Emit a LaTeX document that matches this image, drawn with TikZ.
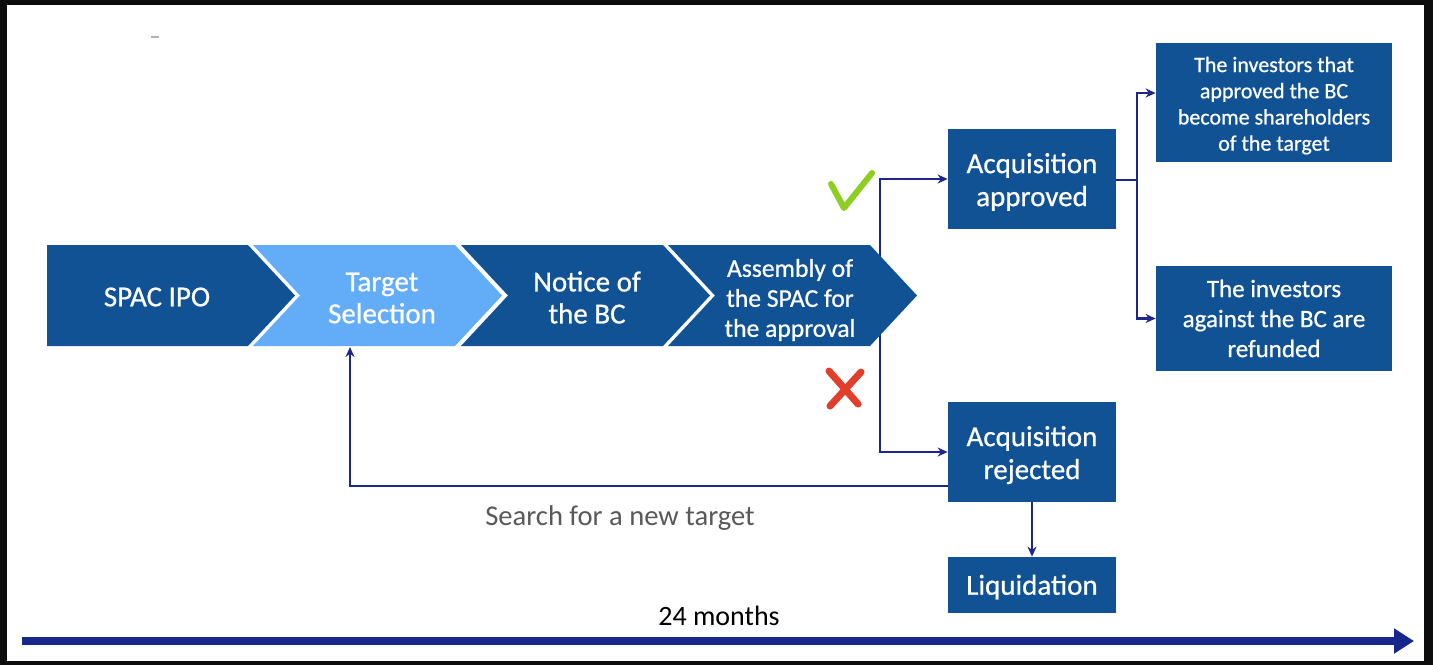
\documentclass[tikz,border=0pt]{standalone}
\usepackage{fontspec}
\setmainfont{Carlito}
\newfontfamily\wfont{Carlito}[FakeBold=0.7]
\usetikzlibrary{arrows.meta}
\pgfdeclarelayer{bg}
\pgfsetlayers{bg,main}
\definecolor{dblue}{RGB}{16,82,148}
\definecolor{lblue}{RGB}{99,172,247}
\definecolor{navy}{RGB}{30,38,140}
\definecolor{tline}{RGB}{22,40,140}
\definecolor{chk}{RGB}{142,206,32}
\definecolor{xred}{RGB}{226,62,44}
\definecolor{frame}{RGB}{13,13,13}
\definecolor{sgray}{RGB}{89,89,89}
\newcommand\mlines[2]{\raisebox{#1}[\height][\depth]{\begin{tabular}{@{}c@{}}#2\end{tabular}}}
\begin{document}
\begin{tikzpicture}[x=0.5pt,y=-0.5pt,
  conn/.style={draw=navy, line width=1.2pt, -{Stealth[length=5pt,width=4.5pt]}},
  wtxt/.style={text=white, align=center, inner sep=0pt, font=\wfont\fontsize{14.5}{16}\selectfont},
  box/.style={fill=dblue, inner sep=0pt, text=white, align=center},
  bigbox/.style={box, minimum width=84pt, minimum height=50pt, font=\wfont\fontsize{14.5}{16.5}\selectfont}
]
% frame and background
\begin{pgfonlayer}{bg}
\fill[frame] (0,0) rectangle (1433,665);
\fill[white] (7,5) rectangle (1424,661);
\end{pgfonlayer}
\useasboundingbox (0,0) rectangle (1433,665);
\draw[gray!60, line width=0.7pt] (151,37) -- (159,37);

% chevrons
\fill[dblue] (47,245) -- (248,245) -- (295,295.5) -- (248,346) -- (47,346) -- cycle;
\fill[lblue] (253,245) -- (455,245) -- (502,295.5) -- (455,346) -- (253,346) -- (300,295.5) -- cycle;
\fill[dblue] (461,245) -- (663,245) -- (710,295.5) -- (663,346) -- (461,346) -- (508,295.5) -- cycle;
\fill[dblue] (668,245) -- (870,245) -- (917,295.5) -- (870,346) -- (668,346) -- (715,295.5) -- cycle;

\node[wtxt] (ipo) at (157,297) {SPAC IPO};
\node[wtxt] (tgt) at (382,298) {Target\\Selection};
\node[wtxt] (bc) at (587,297.5) {Notice of\\the BC};
\node[wtxt, font=\wfont\fontsize{12.8}{15}\selectfont] (asm) at (790,300) {Assembly of\\the SPAC for\\the approval};

% boxes
\node[bigbox] (appr) at (1032,179) {\mlines{-2pt}{Acquisition\\approved}};
\node[bigbox] (rej) at (1032,452) {\mlines{-2pt}{Acquisition\\rejected}};
\node[box, minimum width=84pt, minimum height=28pt, font=\wfont\fontsize{14.5}{16}\selectfont] (liq) at (1032,585) {\raisebox{-1pt}[\height][\depth]{Liquidation}};
\node[box, minimum width=118pt, minimum height=59.5pt, font=\wfont\fontsize{11}{13.1}\selectfont] (inv1) at (1274,102.5) {\mlines{-1.8pt}{The investors that\\approved the BC\\become shareholders\\of the target}};
\node[box, minimum width=118pt, minimum height=52.5pt, font=\wfont\fontsize{12.5}{15}\selectfont] (inv2) at (1274,318.5) {The investors\\against the BC are\\refunded};

% connectors
\coordinate (fork) at (880,295);
\coordinate (split) at (1137,180);
\coordinate (tgtb) at (350,347);
\begin{pgfonlayer}{bg}
\draw[conn] (fork) |- (appr.west);
\draw[conn] (fork) |- (rej.west);
\end{pgfonlayer}
\draw[navy, line width=1.2pt] (appr.east |- split) -- (split);
\draw[conn] (split) |- (inv1.west |- 0,93);
\draw[conn] (split) |- (inv2.west);
\draw[conn] (rej.south) -- (liq.north);
\draw[conn] (rej.west |- 0,486) -| (tgtb);

\node[text=sgray, font=\fontsize{14.3}{16}\selectfont] (search) at (620,518) {Search for a new target};

% check and cross
\draw[chk, line width=3pt, line cap=round, line join=round] (831,184) -- (844,208) -- (872,173);
\draw[xred, line width=3.5pt, line cap=round] (829,371) -- (858,404);
\draw[xred, line width=3.5pt, line cap=round] (861,372) -- (830,406);

% timeline
\coordinate (tl0) at (22,641);
\coordinate (tl1) at (1414,641);
\draw[tline, line width=4pt, -{Triangle[length=10pt,width=12pt]}] (tl0) -- (tl1);
\node[font=\fontsize{14}{16}\selectfont] (months) at (719,616) {24 months};
\end{tikzpicture}
\end{document}
